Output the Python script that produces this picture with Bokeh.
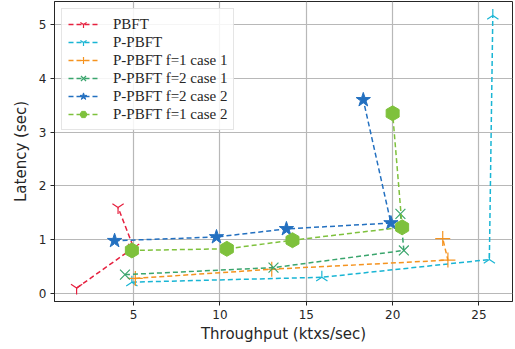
import numpy as np
from bokeh.plotting import figure
from bokeh.models import Legend, LegendItem, Range1d, FixedTicker
from bokeh.embed import file_html
from bokeh.resources import INLINE

# Data
pbft_x = [1.7, 5.0, 4.1]
pbft_y = [0.10, 0.85, 1.60]

ppbft_x = [4.9, 15.9, 25.6, 25.8]
ppbft_y = [0.21, 0.30, 0.63, 5.17]

f1c1_x = [5.1, 13.0, 23.2, 22.9]
f1c1_y = [0.28, 0.45, 0.62, 1.02]

f2c1_x = [4.5, 13.1, 20.65, 20.45]
f2c1_y = [0.35, 0.48, 0.80, 1.48]

f2c2_x = [3.9, 9.8, 13.85, 19.9, 18.3]
f2c2_y = [0.98, 1.05, 1.20, 1.31, 3.60]

f1c2_x = [4.9, 10.4, 14.2, 20.55, 20.0]
f1c2_y = [0.80, 0.83, 0.99, 1.23, 3.35]

labels = ["PBFT", "P-PBFT", "P-PBFT f=1 case 1", "P-PBFT f=2 case 1",
          "P-PBFT f=2 case 2", "P-PBFT f=1 case 2"]
x_ticks = [5, 10, 15, 20, 25]
y_ticks = [0, 1, 2, 3, 4, 5]

p = figure(width=514, height=348, output_backend="svg", toolbar_location=None,
           x_range=Range1d(0.42, 26.94), y_range=Range1d(-0.15, 5.43),
           min_border_left=54, min_border_right=2, min_border_top=1,
           min_border_bottom=47)

p.outline_line_color = "#262626"
p.outline_line_width = 1
p.background_fill_color = "white"
p.border_fill_color = "white"

for ax in (p.xaxis[0], p.yaxis[0]):
    ax.major_label_text_font = "DejaVu Sans"
    ax.major_label_text_font_size = "12px"
    ax.major_label_text_color = "#262626"
    ax.axis_label_text_font = "DejaVu Sans"
    ax.axis_label_text_font_size = "15px"
    ax.axis_label_text_font_style = "normal"
    ax.axis_label_text_color = "#262626"
    ax.axis_line_color = "#262626"
    ax.major_tick_line_color = "#262626"
    ax.major_tick_out = 4
    ax.major_tick_in = 0
    ax.minor_tick_line_color = None

p.xaxis.ticker = FixedTicker(ticks=x_ticks)
p.yaxis.ticker = FixedTicker(ticks=y_ticks)
p.xaxis.axis_label = "Throughput (ktxs/sec)"
p.yaxis.axis_label = "Latency (sec)"
p.xaxis.major_label_standoff = 4
p.yaxis.major_label_standoff = 4
p.xaxis.axis_label_standoff = 3
p.yaxis.axis_label_standoff = 6

p.xgrid.grid_line_color = "#b8b8b8"
p.ygrid.grid_line_color = "#b8b8b8"
p.xgrid.grid_line_width = 1.2
p.ygrid.grid_line_width = 1.2

series = [
    (pbft_x, pbft_y, "#e6213f", "y", 0.0, 13, None),
    (ppbft_x, ppbft_y, "#19b5d4", "y", np.pi, 13, None),
    (f1c1_x, f1c1_y, "#f5931f", "cross", 0.0, 15, None),
    (f2c1_x, f2c1_y, "#3aa56d", "x", 0.0, 14, None),
    (f2c2_x, f2c2_y, "#2370c0", "star", 0.0, 15, "fill"),
    (f1c2_x, f1c2_y, "#7ec13c", "hex", np.pi / 2, 15, "fill"),
]

items = []
for (xs, ys, col, mk, ang, sz, fill), lab in zip(series, labels):
    r1 = p.line(xs, ys, line_color=col, line_width=1.5, line_dash="5 3")
    if fill:
        r2 = p.scatter(xs, ys, marker=mk, angle=ang, size=sz, fill_color=col,
                       line_color=col, line_width=1)
    else:
        r2 = p.scatter(xs, ys, marker=mk, angle=ang, size=sz, fill_color=None,
                       line_color=col, line_width=1.2)
    items.append(LegendItem(label=lab, renderers=[r1, r2]))

legend = Legend(items=items, location="top_left")
legend.label_text_font = "Liberation Serif"
legend.label_text_font_size = "15px"
legend.label_text_color = "#262626"
legend.glyph_width = 30
legend.glyph_height = 18
legend.label_height = 18
legend.label_standoff = 15
legend.spacing = 0
legend.padding = 6
legend.margin = 7
legend.border_line_color = "#cccccc"
legend.background_fill_alpha = 0.85
p.add_layout(legend)

html = file_html(p, INLINE)
html = html.replace("<body>", "<body style=\"margin:0\">", 1)
open("out.html", "w").write(html)
